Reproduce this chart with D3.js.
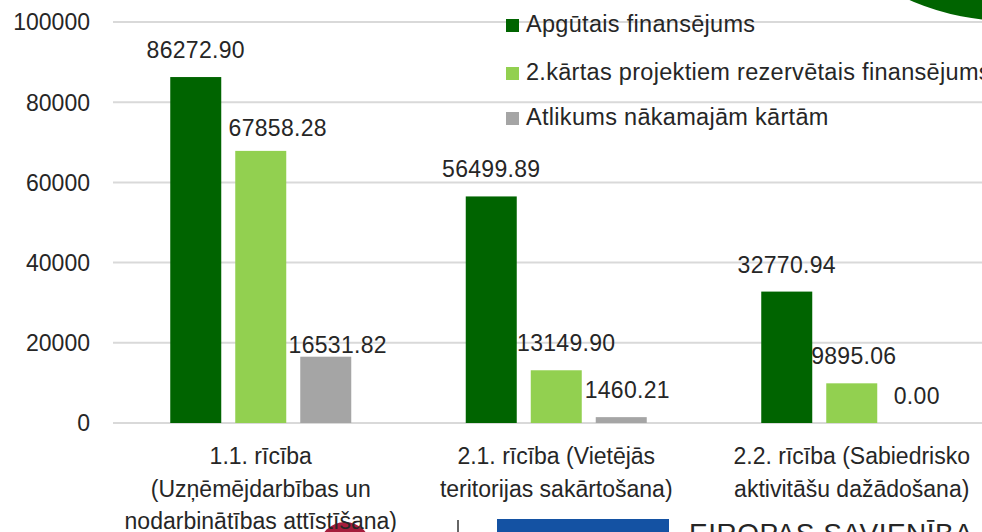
<!DOCTYPE html>
<html>
<head>
<meta charset="utf-8">
<script src="https://cdn.jsdelivr.net/npm/d3@7/dist/d3.min.js"></script>
<style>
  html, body { margin: 0; padding: 0; background: #fff; }
  svg { display: block; }
  text { font-family: "Liberation Sans", Arial, sans-serif; fill: #262626; }
</style>
</head>
<body>
<svg id="chart" width="982" height="532"></svg>
<script>
// ---- data ----
const categories = [
  "1.1. rīcība|(Uzņēmējdarbības un|nodarbinātības attīstīšana)",
  "2.1. rīcība (Vietējās|teritorijas sakārtošana)",
  "2.2. rīcība (Sabiedrisko|aktivitāšu dažādošana)"
];
const seriesNames = [
  "Apgūtais finansējums",
  "2.kārtas projektiem rezervētais finansējums",
  "Atlikums nākamajām kārtām"
];
const apgutais = [86272.90, 56499.89, 32770.94];
const rezervetais = [67858.28, 13149.90, 9895.06];
const atlikums = [16531.82, 1460.21, 0.00];
const yTicks = [0, 20000, 40000, 60000, 80000, 100000];

// ---- layout / style ----
const W = 982, H = 532;
const colors = ["#006400", "#92d050", "#a5a5a5"];
// label nudges [series][category] as [dx, dy]
const labelNudge = [
  [[0, 0], [0, 0], [0, 0]],
  [[17, 4], [10, 0], [2, 0]],
  [[12, 15], [6, 0], [0, 0]]
];

const series = [apgutais, rezervetais, atlikums];
const svg = d3.select("#chart");

const x0 = d3.scaleBand().domain(d3.range(categories.length)).range([113, 999.5]).paddingInner(0).paddingOuter(0);
const x1 = d3.scaleBand().domain(d3.range(series.length)).range([57.25, x0.bandwidth() - 57.25]).paddingInner(14 / 65).paddingOuter(0);
const y = d3.scaleLinear().domain([0, 100000]).range([423, 22]);

// decorative red logo piece (behind everything)
svg.append("circle").attr("cx", 345).attr("cy", 548).attr("r", 26).attr("fill", "#a51c3c");

// gridlines
svg.append("g").selectAll("line").data(yTicks).join("line")
  .attr("x1", 113).attr("x2", W)
  .attr("y1", d => y(d)).attr("y2", d => y(d))
  .attr("stroke", "#d9d9d9").attr("stroke-width", 2);

// y axis labels
const yAxis = d3.axisLeft(y).tickValues(yTicks).tickSize(0).tickPadding(0).tickFormat(d3.format("d"));
const yg = svg.append("g").attr("transform", "translate(90,0)").call(yAxis);
yg.select(".domain").remove();
yg.selectAll("text").attr("font-size", 23).attr("font-family", "Liberation Sans, Arial, sans-serif")
  .attr("fill", "#262626").attr("dy", "0.34em");

// bars
const groups = svg.append("g").selectAll("g").data(categories).join("g")
  .attr("transform", (d, i) => `translate(${x0(i)},0)`);

groups.each(function (c, ci) {
  const g = d3.select(this);
  series.forEach((s, si) => {
    const v = s[ci];
    g.append("rect")
      .attr("x", x1(si)).attr("width", x1.bandwidth())
      .attr("y", y(v)).attr("height", y(0) - y(v))
      .attr("fill", colors[si]);
    const [dx, dy] = labelNudge[si][ci];
    g.append("text")
      .attr("x", x1(si) + x1.bandwidth() / 2 + dx)
      .attr("y", y(v) - 19 + dy)
      .attr("text-anchor", "middle")
      .attr("font-size", 23)
      .attr("letter-spacing", 0.3)
      .text(v.toFixed(2));
  });
  // category labels
  const lines = c.split("|");
  const t = g.append("text").attr("text-anchor", "middle").attr("font-size", 23);
  lines.forEach((ln, li) => {
    t.append("tspan").attr("x", x0.bandwidth() / 2).attr("y", 464 + li * 32.5).text(ln);
  });
});

// decorative top-right arc
svg.append("circle").attr("cx", 1010).attr("cy", -230).attr("r", 251).attr("fill", "#006400");

// legend
const leg = svg.append("g").selectAll("g").data(seriesNames).join("g")
  .attr("transform", (d, i) => `translate(506,${[19, 67, 112][i]})`);
leg.append("rect").attr("width", 13).attr("height", 13).attr("fill", (d, i) => colors[i]);
leg.append("text").attr("x", 20).attr("y", 13).attr("font-size", 23.5)
  .attr("letter-spacing", 0.3).text(d => d);

// bottom decorations (slide logos, partially visible)
svg.append("line").attr("x1", 458).attr("x2", 458).attr("y1", 520).attr("y2", 532)
  .attr("stroke", "#333").attr("stroke-width", 1.5);
svg.append("rect").attr("x", 497).attr("y", 519).attr("width", 172).attr("height", 20).attr("fill", "#1452a3");
svg.append("text").attr("x", 689).attr("y", 543).attr("font-size", 28).attr("fill", "#333")
  .attr("letter-spacing", 0.5).text("EIROPAS SAVIENĪBA");
</script>
</body>
</html>
